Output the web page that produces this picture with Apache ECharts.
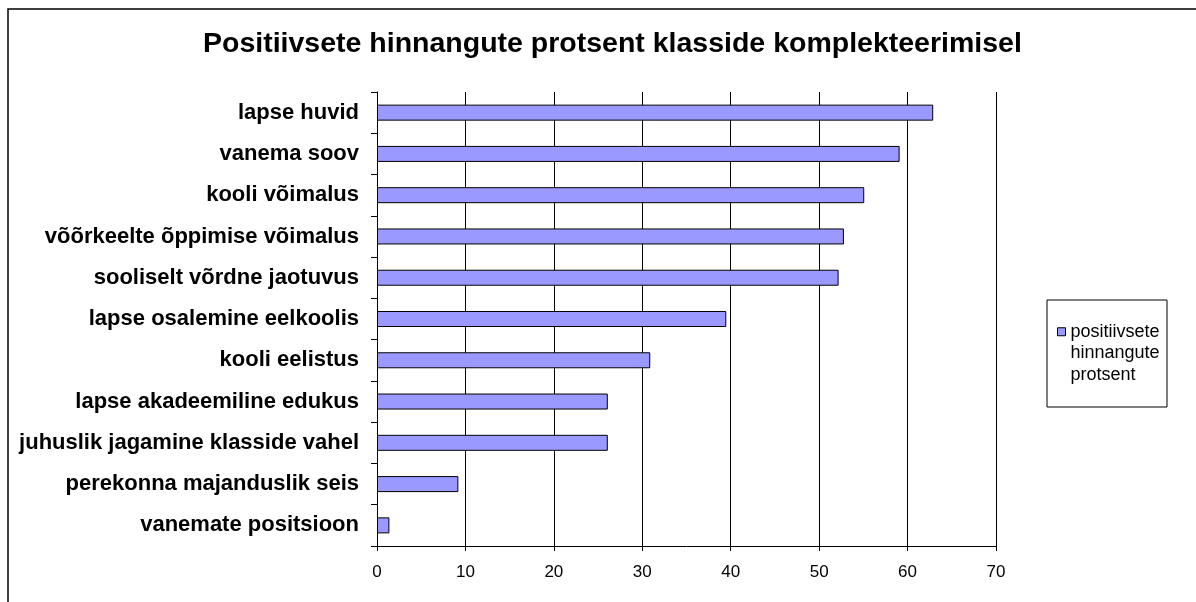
<!DOCTYPE html>
<html>
<head>
<meta charset="utf-8">
<script src="https://cdn.jsdelivr.net/npm/echarts@6/dist/echarts.min.js"></script>
<style>
  html, body { margin: 0; padding: 0; background: #fff; }
  #chart { width: 1196px; height: 602px; }
</style>
</head>
<body>
<div id="chart"></div>
<script>
var categories = [
    'lapse huvid',
    'vanema soov',
    'kooli võimalus',
    'võõrkeelte õppimise võimalus',
    'sooliselt võrdne jaotuvus',
    'lapse osalemine eelkoolis',
    'kooli eelistus',
    'lapse akadeemiline edukus',
    'juhuslik jagamine klasside vahel',
    'perekonna majanduslik seis',
    'vanemate positsioon'
];
var values = [62.9, 59.1, 55.1, 52.8, 52.2, 39.5, 30.9, 26.1, 26.1, 9.2, 1.4];
var seriesName = 'positiivsete hinnangute protsent';
var titleText = 'Positiivsete hinnangute protsent klasside komplekteerimisel';

var chart = echarts.init(document.getElementById('chart'));

var option = {
    backgroundColor: '#fff',
    animation: false,
    textStyle: { fontFamily: 'Liberation Sans, Arial, sans-serif', color: '#000' },
    title: {
        text: titleText,
        left: 203,
        top: 30,
        padding: 0,
        textStyle: { fontSize: 28.5, fontWeight: 'bold', color: '#000' }
    },
    graphic: [
        // outer chart frame (only top and left edges are visible)
        { type: 'rect', shape: { x: 8, y: 9, width: 1300, height: 700 },
          style: { fill: null, stroke: '#000', lineWidth: 1.5 }, silent: true },
        // legend frame
        { type: 'rect', shape: { x: 1047, y: 300, width: 120, height: 107 },
          style: { fill: '#fff', stroke: '#000', lineWidth: 1 }, z: 0, silent: true }
    ],
    legend: {
        left: 1057,
        top: 278,
        padding: 0,
        orient: 'vertical',
        icon: 'rect',
        itemWidth: 8,
        itemHeight: 8,
        z: 10,
        itemStyle: { borderColor: '#000', borderWidth: 1 },
        // two blank lines first so the first text line sits level with the icon
        formatter: function () {
            return '\n\npositiivsete\nhinnangute\nprotsent';
        },
        textStyle: { fontSize: 18, lineHeight: 21.5, color: '#000' },
        data: [seriesName]
    },
    grid: {
        left: 377,
        right: 200,
        top: 92,
        bottom: 56,
        containLabel: false,
        outerBoundsMode: 'none'
    },
    xAxis: {
        type: 'value',
        min: 0,
        max: 70,
        interval: 10,
        axisLine: { show: true, lineStyle: { color: '#000', width: 1 } },
        axisTick: { show: true, length: 5, lineStyle: { color: '#000' } },
        axisLabel: { fontSize: 17, color: '#000', margin: 18 },
        splitLine: { show: true, lineStyle: { color: '#000', width: 1 } }
    },
    yAxis: {
        type: 'category',
        inverse: true,
        data: categories,
        axisLine: { show: true, lineStyle: { color: '#000', width: 1 } },
        axisTick: { show: true, length: 6, alignWithLabel: false, lineStyle: { color: '#000' } },
        axisLabel: { fontSize: 22, fontWeight: 'bold', color: '#000', margin: 18 },
        splitLine: { show: false }
    },
    series: [
        {
            name: seriesName,
            type: 'bar',
            data: values,
            barWidth: 16,
            itemStyle: { color: '#9999FF', borderColor: '#000', borderWidth: 1 }
        }
    ]
};

chart.setOption(option);
</script>
</body>
</html>
